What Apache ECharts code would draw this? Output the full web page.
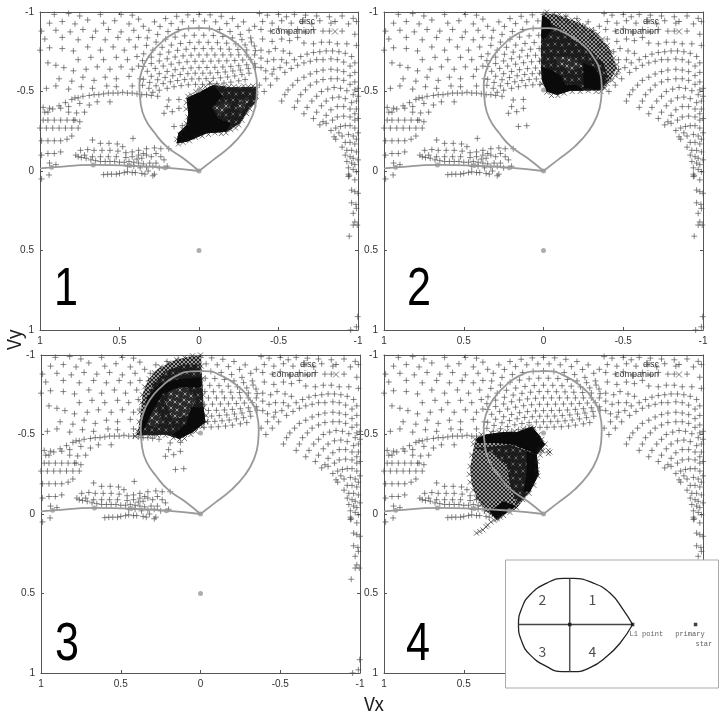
<!DOCTYPE html>
<html>
<head>
<meta charset="utf-8">
<style>
html, body { margin: 0; padding: 0; background: #fff; }
#main { width: 720px; height: 714px; }
</style>
<script src="https://cdn.jsdelivr.net/npm/echarts@6/dist/echarts.min.js"></script>
</head>
<body>
<div id="main"></div>
<script>
// disc points (Vx, Vy), the same in all four panels
const discFanLeft = [[.91,-.985],[.82,-.99],[.75,-.975],[.62,-.985],[.49,-.985],[.42,-.98],
  [.94,-.93],[.86,-.94],[.78,-.925],[.70,-.95],[.60,-.93],[.53,-.945],[.44,-.925],[.38,-.955],
  [.99,-.88],[.90,-.885],[.81,-.875],[.73,-.89],[.65,-.88],[.57,-.89],[.49,-.875],[.41,-.885],
  [.97,-.83],[.86,-.84],[.76,-.825],[.67,-.84],[.59,-.825],[.51,-.84],[.44,-.825],[.38,-.84],
  [1.0,-.76],[.94,-.775],[.86,-.77],[.79,-.755],[.70,-.78],[.62,-.76],[.54,-.78],[.47,-.76],[.40,-.78],
  [.95,-.68],[.90,-.665],[.85,-.65],[.76,-.70],[.68,-.715],[.60,-.70],[.52,-.715],[.45,-.70],[.39,-.72],
  [.79,-.63],[.71,-.64],[.64,-.655],[.56,-.64],[.49,-.655],[.42,-.64],[.38,-.66],
  [.88,-.58],[.80,-.565],[.73,-.59],[.66,-.57],[.59,-.59],[.52,-.58],[.44,-.595],[.37,-.58],
  [.96,-.52],[.90,-.535],[.82,-.515],[.74,-.53],[.67,-.52],[.58,-.535],[.52,-.53],[.42,-.535]];
const discStream = [[.97,-.37],[.95,-.37],[.92,-.39],[.88,-.41],[.84,-.43],[.80,-.45],[.78,-.46],[.76,-.46],[.73,-.47],[.69,-.475],
  [.66,-.48],[.63,-.48],[.60,-.485],[.57,-.49],[.54,-.49],[.51,-.49],[.48,-.495],[.45,-.49],[.42,-.49],[.39,-.485],[.36,-.48],[.33,-.48],[.30,-.475],[.26,-.47],
  [.98,-.40],[.94,-.395],[.87,-.395],[.82,-.405],[.75,-.425],[.69,-.415],[.64,-.435],[.56,-.435],[.82,-.37],[.77,-.365],[.72,-.37],[.75,-.31],[.78,-.32],
  [.2,-.405],[.126,-.394],[.168,-.373],[.22,-.363],[.126,-.45],[.19,-.447],[.157,-.28],[.105,-.285]];
const discCenterLeft = [[0,-.985],[.07,-.982],[.14,-.973],[.21,-.959],[.28,-.938],[.35,-.91],
  [.035,-.944],[.105,-.938],[.175,-.927],[.245,-.909],[.315,-.885],
  [0,-.90],[.065,-.897],[.13,-.89],[.195,-.877],[.26,-.859],[.325,-.837],
  [.03,-.854],[.09,-.85],[.15,-.842],[.21,-.829],[.27,-.811],[.33,-.79],
  [0,-.81],[.058,-.808],[.116,-.802],[.174,-.792],[.232,-.778],[.29,-.76],[.348,-.737],
  [.027,-.77],[.081,-.766],[.135,-.759],[.19,-.748],[.245,-.734],[.30,-.716],[.355,-.694],
  [0,-.73],[.05,-.728],[.10,-.724],[.15,-.717],[.20,-.706],[.25,-.692],[.30,-.676],[.35,-.657],
  [.025,-.69],[.075,-.687],[.125,-.681],[.175,-.672],[.225,-.66],[.275,-.645],[.325,-.627],
  [0,-.65],[.05,-.648],[.10,-.644],[.15,-.637],[.20,-.626],[.25,-.612],[.30,-.596],[.35,-.577],
  [.024,-.615],[.07,-.612],[.118,-.607],[.165,-.599],[.213,-.588],[.26,-.574],[.31,-.557],[.355,-.539],
  [0,-.58],[.045,-.579],[.09,-.575],[.135,-.569],[.18,-.561],[.225,-.55],[.27,-.536],[.315,-.52],
  [.022,-.545],[.067,-.542],[.112,-.537],[.157,-.53],[.20,-.52],[.25,-.508],[.29,-.495]];
const discCenterRight = [[-.07,-.982],[-.14,-.973],[-.21,-.959],[-.28,-.938],[-.35,-.91],
  [-.035,-.944],[-.105,-.938],[-.175,-.927],[-.245,-.909],[-.315,-.885],
  [-.065,-.897],[-.13,-.89],[-.195,-.877],[-.26,-.859],[-.325,-.837],
  [-.03,-.854],[-.09,-.852],[-.15,-.846],[-.21,-.837],[-.27,-.826],[-.33,-.811],
  [-.058,-.809],[-.116,-.807],[-.174,-.804],[-.232,-.80],[-.29,-.793],[-.348,-.786],
  [-.027,-.77],[-.081,-.769],[-.135,-.768],[-.19,-.766],[-.245,-.764],[-.30,-.761],[-.355,-.757],
  [-.05,-.73],[-.10,-.73],[-.15,-.73],[-.20,-.73],[-.25,-.73],[-.30,-.73],[-.35,-.73],
  [-.025,-.69],[-.075,-.691],[-.125,-.692],[-.175,-.693],[-.225,-.695],[-.275,-.698],[-.325,-.70],
  [-.05,-.651],[-.10,-.652],[-.15,-.654],[-.20,-.658],[-.25,-.662],[-.30,-.668],[-.35,-.675],
  [-.024,-.615],[-.07,-.616],[-.118,-.619],[-.165,-.623],[-.213,-.629],[-.26,-.635],[-.31,-.644],[-.355,-.653],
  [-.045,-.581],[-.09,-.583],[-.135,-.586],[-.18,-.591],[-.225,-.598],[-.27,-.606],[-.315,-.615],
  [-.022,-.545],[-.067,-.547],[-.112,-.549],[-.157,-.553],[-.20,-.559],[-.25,-.567],[-.29,-.575]];
const discArchTop = [[-.38,-.99],[-.43,-.98],[-.50,-.985],[-.55,-.97],[-.60,-.985],[-.67,-.98],[-.74,-.975],[-.82,-.97],[-.90,-.975],[-.97,-.96],
  [-.40,-.94],[-.46,-.93],[-.52,-.945],[-.58,-.93],[-.65,-.94],[-.71,-.925],[-.76,-.945],[-.83,-.93],[-.94,-.925],[-.99,-.94],
  [-.39,-.89],[-.45,-.88],[-.50,-.895],[-.56,-.875],[-.62,-.89],[-.67,-.875],[-.72,-.89],[-.78,-.88],[-.82,-.88],[-.90,-.88],[-.98,-.86],
  [-.40,-.83],[-.46,-.815],[-.52,-.83],[-.57,-.82],[-.62,-.84],[-.66,-.805],[-.72,-.80],[-.77,-.81],[-.82,-.81],[-.87,-.80],[-.93,-.80],[-.99,-.79],
  [-.39,-.76],[-.44,-.75],[-.48,-.77],[-.53,-.755],[-.57,-.74],[-.39,-.71],[-.43,-.69],[-.47,-.70],[-.52,-.70],[-.39,-.65],[-.42,-.63],[-.47,-.64]];
const discArches = [[-.38,-.54],[-.42,-.58],[-.46,-.61],[-.51,-.65],[-.55,-.68],[-.60,-.70],[-.64,-.72],[-.68,-.735],[-.72,-.745],[-.76,-.75],[-.80,-.755],[-.84,-.755],[-.88,-.75],[-.92,-.74],[-.96,-.72],[-.98,-.68],
  [-.41,-.50],[-.45,-.54],[-.49,-.58],[-.54,-.62],[-.58,-.645],[-.62,-.665],[-.66,-.68],[-.70,-.69],[-.74,-.70],[-.78,-.70],[-.83,-.705],[-.87,-.70],[-.91,-.685],[-.95,-.66],[-.98,-.62],
  [-.52,-.44],[-.54,-.48],[-.56,-.51],[-.59,-.54],[-.62,-.57],[-.66,-.59],[-.70,-.61],[-.74,-.625],[-.78,-.635],[-.83,-.64],[-.87,-.635],[-.91,-.625],[-.95,-.60],[-.98,-.56],[-1.0,-.52],
  [-.60,-.40],[-.62,-.44],[-.64,-.48],[-.67,-.51],[-.70,-.54],[-.74,-.56],[-.78,-.575],[-.83,-.58],[-.87,-.58],[-.91,-.57],[-.95,-.545],[-.98,-.51],[-1,-.47],
  [-.66,-.36],[-.68,-.40],[-.71,-.44],[-.74,-.47],[-.77,-.50],[-.81,-.515],[-.85,-.525],[-.89,-.52],[-.93,-.505],[-.97,-.48],[-.99,-.44],
  [-.72,-.33],[-.74,-.37],[-.77,-.41],[-.80,-.44],[-.84,-.46],[-.88,-.465],[-.92,-.455],[-.96,-.43],[-.99,-.39],
  [-.78,-.31],[-.80,-.35],[-.83,-.385],[-.87,-.405],[-.91,-.405],[-.95,-.39],[-.98,-.36],[-1,-.33],
  [-.76,-.29],[-.80,-.30],[-.84,-.32],[-.87,-.34],[-.91,-.345],[-.95,-.34],[-.98,-.32],
  [-.83,-.255],[-.86,-.27],[-.89,-.28],[-.92,-.285],[-.95,-.285],[-.98,-.27],[-1,-.24],
  [-.85,-.215],[-.88,-.24],[-.90,-.22],[-.94,-.23],[-.97,-.22],[-.99,-.20],[-.86,-.20],[-.92,-.18],[-.95,-.18],[-.98,-.17],
  [-.90,-.15],[-.93,-.13],[-.96,-.13],[-.99,-.12],[-.92,-.10],[-.95,-.09],[-.97,-.08],[-1,-.07],[-.93,-.06],[-.96,-.05],[-.98,-.04],[-.94,-.02],[-.97,-.01],[-.99,.005],
  [-.94,.02],[-.945,.03],[-.94,.035],[-.98,.056],[-.96,.12],[-.98,.13],[-1,.14],[-.96,.2],[-.987,.21],[-.99,.235],[-.97,.266],[-.98,.32],[-.995,.34],[-.97,.34],[-.945,.41],[-.998,.916],[-.99,.98],[-.954,1.0]];
const discLowerLeft = [[.98,-.32],[.95,-.32],[.91,-.32],[.87,-.32],[.83,-.32],[.79,-.32],[1.0,-.27],[.96,-.27],[.92,-.27],[.88,-.27],[.84,-.27],[.80,-.27],[.76,-.27],
  [.99,-.19],[.95,-.19],[.91,-.19],[.87,-.19],[.83,-.20],[.80,-.22],[.99,-.10],[.95,-.11],[.91,-.11],[.87,-.12],[.94,-.05],[.90,-.04],[.99,.05],[.943,.025],
  [.67,-.195],[.62,-.174],[.566,-.174],[.514,-.17],[.415,-.205],[.48,-.153],
  [.745,-.13],[.70,-.135],[.66,-.13],[.61,-.13],[.56,-.13],[.51,-.125],[.46,-.115],[.42,-.12],[.38,-.13],[.33,-.14],[.28,-.145],[.24,-.14],[.19,-.14],
  [.775,-.10],[.76,-.09],[.74,-.085],[.71,-.08],[.68,-.07],[.65,-.065],[.62,-.06],[.59,-.06],[.56,-.06],[.53,-.06],[.50,-.055],[.47,-.055],[.44,-.06],[.41,-.055],[.38,-.05],[.35,-.045],[.31,-.05],[.27,-.05],
  [.72,-.10],[.67,-.09],[.62,-.09],[.57,-.09],[.52,-.09],[.46,-.085],[.42,-.09],[.38,-.10],[.36,-.08],[.33,-.10],[.30,-.09],[.27,-.11],[.24,-.09],[.22,-.07],[.39,-.075],[.35,-.11],
  [.45,-.03],[.41,-.03],[.37,-.02],[.33,-.025],[.29,-.03],[.25,-.02],[.20,-.03],
  [.60,.023],[.575,.02],[.55,.02],[.52,.02],[.50,.015],[.47,.01],[.45,.005],[.42,.01],[.40,.01],[.36,.015],[.32,.0],[.29,.03],[.28,.02],[.34,.02]];
const discPoints = [].concat(discFanLeft, discStream, discCenterLeft, discCenterRight, discArchTop, discArches, discLowerLeft);

// gray Roche lobe and gas stream
const lobeLine = [[0,0],[-.09,-.07],[-.195,-.153],[-.28,-.247],[-.333,-.34],[-.361,-.447],[-.365,-.533],[-.354,-.625],[-.312,-.717],[-.237,-.801],[-.143,-.864],[-.027,-.899],[.057,-.897],[.161,-.864],[.245,-.801],[.319,-.717],[.361,-.625],[.375,-.541],[.367,-.426],[.34,-.331],[.277,-.237],[.203,-.153],[.099,-.08],[0,0]];
const streamLine = [[0,0],[.214,-.021],[.434,-.034],[.665,-.038],[.927,-.023],[1,-.017]];
const grayDots = [[0,0],[.214,-.021],[.434,-.034],[.665,-.038],[.927,-.023],[0,-.51],[0,.5]];

// companion clouds: open outline, darker part, lighter patches, solid parts, edge crosses
const outline1 = [[.078,-.457],[-.006,-.499],[-.09,-.541],[-.195,-.526],[-.363,-.53],[-.367,-.447],[-.31,-.384],[-.258,-.3],[-.174,-.247],[-.048,-.237],[.078,-.184],[.14,-.174],[.13,-.237],[.078,-.289],[.067,-.363]];
const dark1 = [outline1];
const light1 = [[[-.09,-.40],[-.17,-.44],[-.21,-.42],[-.13,-.35]],[[-.24,-.42],[-.30,-.47],[-.32,-.45],[-.26,-.36]]];
const solid1 = [[[.078,-.457],[-.006,-.499],[-.09,-.541],[-.15,-.47],[-.08,-.40],[-.12,-.33],[-.20,-.30],[-.17,-.247],[-.048,-.237],[.078,-.184],[.14,-.174],[.13,-.237],[.078,-.289],[.067,-.363]]];
const edge1 = [[.07,-.47],[.05,-.48],[.02,-.50],[-.01,-.52],[-.04,-.53],[-.07,-.555],[-.10,-.54],[-.13,-.535],[-.16,-.53],[-.19,-.53],[-.22,-.53],[-.25,-.525],[-.28,-.535],[-.31,-.53],[-.34,-.535],[-.36,-.51],[-.36,-.47],[-.345,-.42],[-.32,-.39],[-.30,-.36],[-.27,-.32],[-.25,-.29],[-.20,-.26],[-.23,-.27],[-.17,-.24],[-.14,-.235],[-.10,-.24],[-.06,-.23],[-.02,-.22],[.02,-.21],[.06,-.19],[.10,-.18],[.13,-.17],[.14,-.20],[.12,-.23],[.10,-.26],[.08,-.30],[.07,-.34],[.08,-.39],[.08,-.43]];
const outline2 = [[.006,-.996],[-.084,-.981],[-.21,-.939],[-.335,-.866],[-.419,-.761],[-.461,-.646],[-.419,-.572],[-.367,-.505],[-.168,-.505],[-.084,-.478],[-.021,-.499],[.01,-.572],[.017,-.677],[.01,-.866]];
const dark2 = [[[.01,-.95],[-.084,-.908],[-.189,-.824],[-.293,-.761],[-.377,-.677],[-.409,-.572],[-.356,-.509],[-.168,-.505],[-.021,-.499],[.01,-.572],[.017,-.761]]];
const light2 = [[[-.084,-.719],[-.168,-.719],[-.252,-.656],[-.168,-.625],[-.084,-.677]]];
const solid2 = [[[.015,-.656],[-.052,-.635],[-.115,-.593],[-.136,-.541],[-.21,-.541],[-.252,-.505],[-.168,-.505],[-.084,-.478],[-.021,-.499],[.01,-.572]],
  [[-.252,-.52],[-.356,-.509],[-.377,-.572],[-.314,-.656],[-.25,-.68],[-.25,-.6]],
  [[.01,-.98],[-.042,-.95],[-.052,-.887],[0,-.824],[.015,-.845]]];
const edge2 = [[-.02,-1],[-.06,-.985],[-.10,-.985],[-.14,-.97],[-.18,-.95],[-.22,-.94],[-.26,-.915],[-.30,-.89],[-.34,-.86],[-.37,-.83],[-.40,-.79],[-.42,-.75],[-.44,-.71],[-.46,-.67],[-.47,-.63],[-.45,-.60],[-.43,-.57],[-.40,-.55],[-.385,-.52],[-.36,-.50],[-.33,-.50],[-.28,-.505],[-.23,-.50],[-.18,-.50],[-.13,-.49],[-.09,-.475],[-.05,-.475],[-.02,-.495],[.01,-.55],[.015,-.62],[.015,-.70],[-.10,-.96],[-.15,-.94],[-.20,-.91],[-.25,-.88],[-.30,-.84],[-.35,-.79],[-.39,-.74],[-.42,-.68]];
const outline3 = [[-.004,-.996],[.069,-.99],[.174,-.964],[.268,-.912],[.331,-.839],[.363,-.755],[.373,-.65],[.388,-.545],[.405,-.493],[.321,-.499],[.216,-.499],[.132,-.472],[.048,-.514],[-.031,-.577],[-.019,-.671],[-.01,-.86]];
const dark3 = [[[.006,-.94],[.111,-.94],[.216,-.898],[.3,-.814],[.342,-.713],[.363,-.587],[.384,-.493],[.216,-.499],[.132,-.472],[-.031,-.577],[-.019,-.671],[-.01,-.86]]];
const light3 = [[[.342,-.618],[.279,-.671],[.237,-.587],[.279,-.545],[.321,-.556]],[[.195,-.797],[.09,-.797],[.027,-.734],[.069,-.629],[.174,-.587],[.216,-.692]]];
const solid3 = [[[.059,-.671],[-.019,-.671],[-.031,-.577],[.048,-.514],[.132,-.472],[.174,-.499],[.09,-.566]],
  [[.363,-.629],[.331,-.734],[.258,-.818],[.132,-.849],[-.004,-.86],[-.004,-.797],[.132,-.797],[.237,-.755],[.3,-.65],[.373,-.493]]];
const edge3 = [[0,-1],[.05,-.995],[.10,-.985],[.15,-.97],[.20,-.95],[.25,-.925],[.29,-.89],[.32,-.85],[.35,-.80],[.365,-.75],[.37,-.70],[.38,-.64],[.385,-.58],[.395,-.52],[.41,-.49],[.37,-.49],[.32,-.495],[.27,-.495],[.22,-.495],[.17,-.48],[.13,-.47],[.10,-.475],[.06,-.50],[.03,-.52],[-.01,-.55],[-.035,-.58],[-.035,-.62],[-.02,-.67],[-.015,-.75],[-.01,-.85],[-.005,-.93]];
const outline4 = [[.423,-.477],[.356,-.502],[.251,-.515],[.167,-.515],[.073,-.55],[.021,-.487],[-.01,-.435],[.042,-.372],[.031,-.247],[.084,-.142],[.167,-.038],[.251,.004],[.293,.036],[.356,-.017],[.418,-.1],[.45,-.184],[.46,-.289],[.439,-.414]];
const dark4 = [[[.439,-.414],[.209,-.435],[.042,-.372],[.031,-.247],[.084,-.142],[.167,-.059],[.209,-.184],[.23,-.31],[.335,-.393]]];
const light4 = [];
const solid4 = [[[.418,-.477],[.356,-.502],[.251,-.515],[.167,-.515],[.073,-.55],[.021,-.487],[-.01,-.435],[.042,-.372],[.084,-.393],[.188,-.435],[.293,-.446],[.418,-.446]],
  [[.105,-.393],[.042,-.372],[.031,-.247],[.084,-.142],[.126,-.142],[.105,-.268]],
  [[.25,.004],[.293,.036],[.34,-.015],[.25,-.08],[.17,-.05]]];
const edge4 = [[.43,-.47],[.39,-.50],[.33,-.51],[.28,-.515],[.23,-.52],[.18,-.52],[.13,-.535],[.09,-.55],[.06,-.54],[.03,-.50],[.01,-.47],[-.01,-.44],[-.03,-.40],[.01,-.40],[.02,-.37],[.04,-.33],[.04,-.28],[.035,-.24],[.06,-.18],[.09,-.13],[.13,-.09],[.17,-.04],[.21,-.01],[.25,.01],[.44,-.44],[.45,-.37],[.46,-.30],[.465,-.25],[.46,-.20],[.44,-.15],[.42,-.10],[.39,-.06],[.36,-.02],
  [.42,.12],[.40,.11],[.38,.10],[.36,.08],[.35,.07],[.33,.05],[.31,.04],[.29,.03],[.27,.02],[.03,-.40],[.005,-.395],[-.03,-.38],[.02,-.41],[-.04,-.39]];
const outlines = [outline1, outline2, outline3, outline4];
const darks = [dark1, dark2, dark3, dark4];
const lights = [light1, light2, light3, light4];
const solids = [solid1, solid2, solid3, solid4];
const edges = [edge1, edge2, edge3, edge4];

const tickValues = { min: -1, max: 1, interval: 0.5 };
const panelNames = ["1", "2", "3", "4"];

// little key diagram, in its own units
const keyLobe = [[428,224],[400,180],[360,130],[310,100],[250,86],[220,86],[170,100],[120,135],[95,175],[85,224],[95,275],[120,315],[170,350],[215,365],[250,365],[300,353],[350,320],[390,280],[428,224]];
const keyAxisH = [[85,224],[428,224]];
const keyAxisV = [[239,86],[239,365]];
const keyDots = [[239,224],[428,224],[617,224]];
const keyDigits = [[307,150,"1"],[157,150,"2"],[157,304,"3"],[307,304,"4"]];
const keyTexts = [[469,252,"L1 point"],[600,252,"primary"],[642,282,"star"]];

const plusIcon = "path://M-1,0H1M0,-1V1";
const crossIcon = "path://M-1,-1L1,1M-1,1L1,-1";
const GRIDS = [
  { left: 40, top: 12, width: 318, height: 318 },
  { left: 384, top: 12, width: 319, height: 318 },
  { left: 41, top: 355, width: 319, height: 318 },
  { left: 384, top: 355, width: 319, height: 318 }
];

// x hatching used for the open rim of the clouds
function hatchPattern(size, back, ink) {
  const c = document.createElement("canvas");
  c.width = size;
  c.height = size;
  const ctx = c.getContext("2d");
  ctx.fillStyle = back;
  ctx.fillRect(0, 0, size, size);
  ctx.strokeStyle = ink;
  ctx.lineWidth = 1;
  ctx.beginPath();
  ctx.moveTo(0, 0);
  ctx.lineTo(size, size);
  ctx.moveTo(size, 0);
  ctx.lineTo(0, size);
  ctx.stroke();
  return c;
}
// dark texture with a few light crosses where the cloud thins out
function speckPattern(back, ink, specks) {
  const c = document.createElement("canvas");
  c.width = 14;
  c.height = 14;
  const ctx = c.getContext("2d");
  ctx.fillStyle = back;
  ctx.fillRect(0, 0, 14, 14);
  ctx.strokeStyle = ink;
  ctx.lineWidth = 0.8;
  ctx.beginPath();
  specks.forEach(s => {
    ctx.moveTo(s[0] - 1.5, s[1] - 1.5);
    ctx.lineTo(s[0] + 1.5, s[1] + 1.5);
    ctx.moveTo(s[0] + 1.5, s[1] - 1.5);
    ctx.lineTo(s[0] - 1.5, s[1] + 1.5);
  });
  ctx.stroke();
  return c;
}
const openFill = { image: hatchPattern(4, "#999", "#222"), repeat: "repeat" };
const darkFill = { image: speckPattern("#1c1c1c", "#777", [[2,3],[9,2],[5,9],[12,10]]), repeat: "repeat" };
const lightFill = { image: speckPattern("#2a2a2a", "#bbb", [[3,2],[9,4],[2,8],[7,10],[12,12]]), repeat: "repeat" };

function cloud(i, poly, fill) {
  return {
    type: "custom",
    xAxisIndex: i,
    yAxisIndex: i,
    z: 3,
    silent: true,
    clip: true,
    data: poly,
    renderItem(params, api) {
      if (params.dataIndex !== 0) return;
      return {
        type: "polygon",
        shape: { points: poly.map(p => api.coord(p)) },
        style: { fill: fill }
      };
    }
  };
}

const grid = [];
const xAxis = [];
const yAxis = [];
const series = [];
const legend = [];
const labelStyle = { color: "#333", fontSize: 10, fontFamily: "Liberation Sans", margin: 6 };
const lineStyle = { color: "#555", width: 1 };

GRIDS.forEach((g, i) => {
  grid.push(g);
  xAxis.push({
    type: "value", gridIndex: i, inverse: true, ...tickValues,
    splitLine: { show: false },
    axisLine: { onZero: false, lineStyle },
    axisTick: { inside: true, length: 3, lineStyle },
    axisLabel: labelStyle
  });
  yAxis.push({
    type: "value", gridIndex: i, inverse: true, ...tickValues,
    splitLine: { show: false },
    axisLine: { onZero: false, lineStyle },
    axisTick: { inside: true, length: 3, lineStyle },
    axisLabel: labelStyle
  });
  // mirrored frame on the top and right sides, ticks only
  xAxis.push({
    type: "value", gridIndex: i, inverse: true, position: "top", ...tickValues,
    splitLine: { show: false },
    axisLine: { onZero: false, lineStyle },
    axisTick: { inside: true, length: 3, lineStyle },
    axisLabel: { show: false }
  });
  yAxis.push({
    type: "value", gridIndex: i, inverse: true, position: "right", ...tickValues,
    splitLine: { show: false },
    axisLine: { onZero: false, lineStyle },
    axisTick: { inside: true, length: 3, lineStyle },
    axisLabel: { show: false }
  });
  const ax = i * 2;
  series.push({
    name: "disc", type: "scatter", xAxisIndex: ax, yAxisIndex: ax, z: 2, silent: true,
    data: discPoints, symbol: plusIcon, symbolSize: 6,
    itemStyle: { color: "none", borderColor: "#444", borderWidth: 0.8 }
  });
  series.push(cloud(ax, outlines[i], openFill));
  darks[i].forEach(poly => series.push(cloud(ax, poly, darkFill)));
  lights[i].forEach(poly => series.push(cloud(ax, poly, lightFill)));
  solids[i].forEach(poly => series.push(cloud(ax, poly, "#0a0a0a")));
  series.push({
    name: "companion", type: "scatter", xAxisIndex: ax, yAxisIndex: ax, z: 3, silent: true,
    data: edges[i], symbol: crossIcon, symbolSize: 5,
    itemStyle: { color: "none", borderColor: "#222", borderWidth: 0.8 }
  });
  [lobeLine, streamLine].forEach(line => series.push({
    type: "line", xAxisIndex: ax, yAxisIndex: ax, z: 4, silent: true, smooth: true,
    data: line, showSymbol: false, lineStyle: { color: "#999", width: 1.8 }
  }));
  series.push({
    type: "scatter", xAxisIndex: ax, yAxisIndex: ax, z: 4, silent: true,
    data: grayDots, symbolSize: 5, itemStyle: { color: "#999" }
  });
  legend.push({
    show: true, selectedMode: false, orient: "vertical", align: "right",
    left: g.left + 226, top: g.top - 1,
    itemWidth: 30, itemHeight: 6, itemGap: -1,
    textStyle: { color: "#333", fontSize: 9, lineHeight: 10, fontFamily: "Liberation Sans" },
    data: [
      { name: "disc", icon: plusIcon, itemStyle: { color: "none", borderColor: "#333", borderWidth: 0.8 } },
      { name: "companion", icon: crossIcon, itemStyle: { color: "none", borderColor: "#333", borderWidth: 0.8 } }
    ]
  });
});

// key diagram grid, painted over the corner of panel 4
grid.push({ left: 505.5, top: 560, width: 213, height: 128 });
xAxis.push({ type: "value", gridIndex: 4, min: 46, max: 686, show: false });
yAxis.push({ type: "value", gridIndex: 4, min: 31, max: 414, inverse: true, show: false });
const keyAx = xAxis.length - 1;
[[keyLobe, "#222", 1.3, true], [keyAxisH, "#444", 1.5, false], [keyAxisV, "#555", 1.5, false]].forEach(k => series.push({
  type: "line", xAxisIndex: keyAx, yAxisIndex: keyAx, z: 11, silent: true, smooth: k[3],
  data: k[0], showSymbol: false, lineStyle: { color: k[1], width: k[2] }
}));
series.push({
  type: "scatter", xAxisIndex: keyAx, yAxisIndex: keyAx, z: 11, silent: true,
  data: keyDots, symbol: "rect", symbolSize: 3.5, itemStyle: { color: "#111" }
});
series.push({
  type: "scatter", xAxisIndex: keyAx, yAxisIndex: keyAx, z: 11, silent: true,
  data: keyDigits, symbolSize: 0,
  label: { show: true, position: "inside", formatter: p => p.data[2], color: "#222", fontSize: 14, fontFamily: "Noto Sans CJK JP" }
});
series.push({
  type: "scatter", xAxisIndex: keyAx, yAxisIndex: keyAx, z: 11, silent: true,
  data: keyTexts, symbolSize: 0,
  label: { show: true, position: "inside", formatter: p => p.data[2], color: "#333", fontSize: 7, fontFamily: "Liberation Mono" }
});

const bigNumbers = [[54, 263], [407, 263], [55, 618], [406, 618]];
const graphic = [
  { type: "rect", z: 10, shape: { x: 505.5, y: 560, width: 213, height: 128 }, style: { fill: "#fff", stroke: "#aaa", lineWidth: 1 } },
  { type: "text", z: 10, x: 4, y: 350, rotation: Math.PI / 2, style: { text: "Vy", fontSize: 19, fontFamily: "Noto Sans CJK JP", fill: "#222" } },
  { type: "text", z: 10, x: 364, y: 694, style: { text: "Vx", fontSize: 19, fontFamily: "Noto Sans CJK JP", fill: "#222" } }
];
panelNames.forEach((n, i) => graphic.push({
  type: "text", z: 10, x: bigNumbers[i][0], y: bigNumbers[i][1], scaleX: 0.8,
  style: { text: n, fontSize: 54, fontFamily: "Liberation Sans", fill: "#000" }
}));

const chart = echarts.init(document.getElementById("main"));
chart.setOption({
  animation: false,
  backgroundColor: "#fff",
  grid, xAxis, yAxis, series, legend, graphic
});
</script>
</body>
</html>
